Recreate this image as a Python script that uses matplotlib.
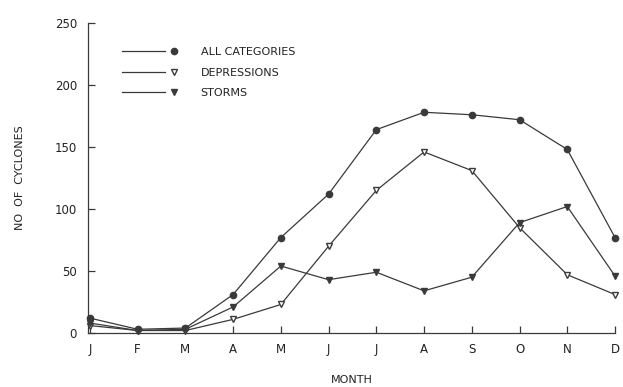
import matplotlib
matplotlib.use("Agg")
import matplotlib.pyplot as plt
from matplotlib.legend_handler import HandlerLine2DCompound

months = ["J", "F", "M", "A", "M", "J", "J", "A", "S", "O", "N", "D"]
all_categories = [12, 3, 4, 31, 77, 112, 164, 178, 176, 172, 148, 77]
depressions = [6, 2, 2, 11, 23, 70, 115, 146, 131, 85, 47, 31]
storms = [8, 2, 3, 21, 54, 43, 49, 34, 45, 89, 102, 46]


class EndMarker(HandlerLine2DCompound):
    # put the marker just past the end of the legend line
    def create_artists(self, legend, orig_handle, xdescent, ydescent,
                       width, height, fontsize, trans):
        line, marker = super().create_artists(legend, orig_handle, xdescent,
                                              ydescent, width, height,
                                              fontsize, trans)
        marker.set_xdata([width - xdescent + 0.8 * fontsize])
        return [line, marker]


def main():
    col = "#3a3a3a"
    plt.rcParams["font.family"] = "DejaVu Sans"
    fig = plt.figure(figsize=(6.23, 3.87), dpi=100)
    ax = fig.add_axes([88 / 623, 54 / 387, 527 / 623, 310 / 387])

    x = list(range(len(months)))
    l1, = ax.plot(x, all_categories, color=col, lw=0.9, marker="o", ms=4.5,
                  mfc=col, mec=col, label="ALL CATEGORIES", clip_on=False)
    l2, = ax.plot(x, depressions, color=col, lw=0.9, marker="v", ms=5,
                  mfc="white", mec=col, label="DEPRESSIONS", clip_on=False)
    l3, = ax.plot(x, storms, color=col, lw=0.9, marker="v", ms=5,
                  mfc=col, mec=col, label="STORMS", clip_on=False)

    ax.set_xlim(-0.04, 11)
    ax.set_ylim(0, 250)
    ax.set_xticks(x)
    ax.set_xticklabels(months)
    ax.set_yticks([0, 50, 100, 150, 200, 250])
    ax.tick_params(direction="in", length=5, width=0.9, colors=col,
                   labelsize=8.5, labelcolor="#222222")
    ax.tick_params(axis="x", pad=7)
    ax.tick_params(axis="y", pad=8)
    for s in ["top", "right"]:
        ax.spines[s].set_visible(False)
    for s in ["left", "bottom"]:
        ax.spines[s].set_color(col)
        ax.spines[s].set_linewidth(0.9)

    ax.set_xlabel("MONTH", fontsize=8, color="#222222", labelpad=14)
    ax.set_ylabel("NO  OF  CYCLONES", fontsize=8, color="#222222", labelpad=21)

    h = EndMarker()
    leg = ax.legend(handles=[l1, l2, l3], loc="upper left",
                    bbox_to_anchor=(0.045, 0.955), frameon=False, fontsize=8,
                    numpoints=1, handlelength=3.9, handletextpad=3.2,
                    labelspacing=0.95, handler_map={l1: h, l2: h, l3: h})
    for t in leg.get_texts():
        t.set_color("#222222")

    fig.savefig("out.png", dpi=100)


if __name__ == "__main__":
    main()
